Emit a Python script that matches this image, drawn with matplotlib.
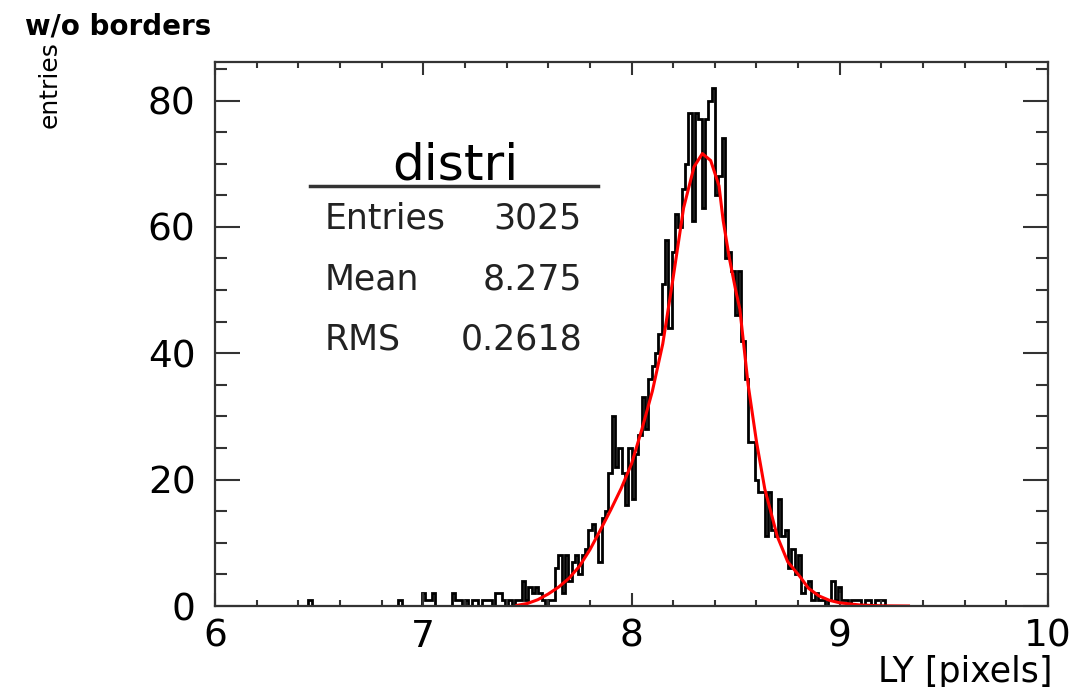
import numpy as np
import matplotlib.pyplot as plt
from matplotlib.ticker import MultipleLocator

# histogram binning: 250 bins on [6, 10]
nbins = 250
xlo, xhi = 6.0, 10.0

# isolated entries below 7.2 (bin centre, count)
sparse_x = [6.456, 6.888, 7.000, 7.016, 7.032, 7.048, 7.144, 7.160, 7.176]
sparse_n = [1, 1, 2, 1, 1, 2, 2, 1, 1]

# consecutive bins starting at 7.2
body_start = 7.2
body_n = [
    1, 0, 1, 1, 0, 1, 1, 1, 0, 2,   # 7.20 - 7.36
    2, 1, 0, 1, 0, 1, 1, 4, 1, 3,   # 7.36 - 7.52
    2, 3, 2, 1, 0, 1, 1, 6, 8, 2,   # 7.52 - 7.68
    8, 4, 7, 8, 5, 8, 9, 12, 13, 11,  # 7.68 - 7.84
    7, 14, 15, 21, 30, 22, 25, 21, 16, 25,  # 7.84 - 8.00
    17, 24, 27, 33, 28, 36, 38, 40, 43, 51,  # 8.00 - 8.16
    58, 44, 56, 62, 60, 66, 70, 78, 61, 78,  # 8.16 - 8.32
    77, 63, 77, 80, 82, 65, 68, 74, 55, 56,  # 8.32 - 8.48
    53, 46, 53, 42, 36, 26, 26, 20, 18, 18,  # 8.48 - 8.64
    11, 18, 12, 11, 17, 11, 12, 6, 9, 5,   # 8.64 - 8.80
    8, 2, 3, 4, 1, 2, 1, 1, 0, 1,   # 8.80 - 8.96
    4, 1, 3, 1, 1, 0, 1, 1, 1, 0,   # 8.96 - 9.12
    1, 1, 0, 1, 1, 1,               # 9.12 - 9.216
]

# red fit curve
fit_x = [7.45, 7.50, 7.55, 7.60, 7.65, 7.70, 7.75, 7.80, 7.85, 7.90,
         7.95, 8.00, 8.05, 8.10, 8.15, 8.20, 8.25, 8.30, 8.34, 8.38,
         8.42, 8.44, 8.47, 8.50, 8.52, 8.56, 8.60, 8.64, 8.70, 8.75,
         8.81, 8.85, 8.90, 8.95, 9.00, 9.10, 9.20, 9.33]
fit_y = [0.1, 0.4, 1.0, 1.9, 3.0, 4.4, 6.3, 8.9, 12.0, 15.2,
         18.6, 22.5, 28.0, 34.0, 41.5, 52.0, 63.0, 69.5, 71.6, 70.5,
         66.5, 61.0, 55.0, 50.0, 47.0, 35.0, 26.0, 18.5, 11.0, 7.0,
         4.6, 2.8, 1.6, 0.9, 0.5, 0.15, 0.03, 0.0]

stat_labels = ["Entries", "Mean", "RMS"]
stat_values = ["3025", "8.275", "0.2618"]

edges = np.linspace(xlo, xhi, nbins + 1)
width = (xhi - xlo) / nbins
counts = np.zeros(nbins)
for xc, n in zip(sparse_x, sparse_n):
    counts[int((xc - xlo) / width)] += n
i0 = int(round((body_start - xlo) / width))
counts[i0:i0 + len(body_n)] += body_n

fig = plt.figure(figsize=(10.79, 6.87), dpi=100)
ax = fig.add_axes([0.1993, 0.1179, 0.7720, 0.7919])

ax.stairs(counts, edges, color="black", lw=2.0)
ax.plot(fit_x, fit_y, color="red", lw=2.2)

ax.set_xlim(xlo, xhi)
ax.set_ylim(0, 86.1)
ax.xaxis.set_major_locator(MultipleLocator(1))
ax.xaxis.set_minor_locator(MultipleLocator(0.2))
ax.yaxis.set_major_locator(MultipleLocator(20))
ax.yaxis.set_minor_locator(MultipleLocator(5))
ax.tick_params(which="both", direction="in", top=True, right=True,
               width=1.5, color="#333333", labelsize=27)
ax.tick_params(axis="x", which="major", length=9.5, pad=9)
ax.tick_params(axis="x", which="minor", length=4.5)
ax.tick_params(axis="y", which="major", length=18, pad=14)
ax.tick_params(axis="y", which="minor", length=8.5)
for s in ax.spines.values():
    s.set_linewidth(1.6)
    s.set_color("#333333")

fig.text(0.975, 0.047, "LY [pixels]", ha="right", va="top", fontsize=25)
fig.text(0.046, 0.940, "entries", rotation=90, ha="center", va="top",
         fontsize=18, family=["Liberation Sans Narrow", "DejaVu Sans"])
fig.text(0.023, 0.962, "w/o borders", ha="left", va="center",
         fontsize=20, fontweight="bold")

# stats box without border
ax.text(0.288, 0.81, "distri", transform=ax.transAxes, ha="center",
        va="center", fontsize=36)
ax.plot([0.114, 0.46], [0.772, 0.772], transform=ax.transAxes,
        color="#333333", lw=2.5)
for k, (lab, val) in enumerate(zip(stat_labels, stat_values)):
    yy = 0.713 - 0.112 * k
    ax.text(0.132, yy, lab, transform=ax.transAxes, ha="left", va="center",
            fontsize=25, color="#222222")
    ax.text(0.4406, yy, val, transform=ax.transAxes, ha="right",
            va="center", fontsize=25, color="#222222")

fig.savefig("out.png", dpi=100)
